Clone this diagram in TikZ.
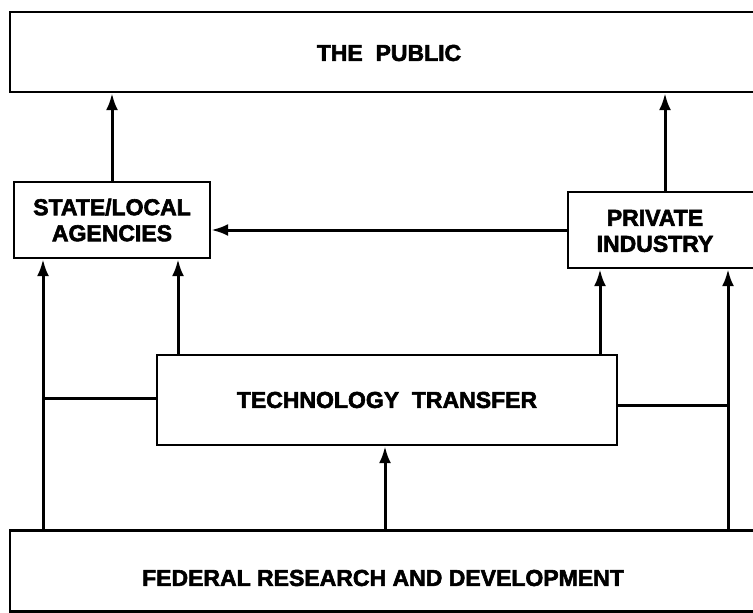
\documentclass[tikz,border=0pt]{standalone}
\usepackage{fontspec}
\setmainfont{Liberation Sans}[BoldFeatures={FakeBold=2.5}]
\usetikzlibrary{arrows.meta,calc}
\begin{document}
\begin{tikzpicture}[x=1pt,y=-1pt,
  box/.style={draw,line width=2.4pt,inner sep=0pt},
  lbl/.style={font=\fontsize{23}{26}\selectfont\bfseries,align=center},
  conn/.style={line width=3pt},
  arr/.style={conn,-{Latex[length=17pt,width=12pt]}}]
\useasboundingbox (0,0) rectangle (753,613);
\clip (0,0) rectangle (753,613);
% boxes
\node[box,minimum width=760pt,minimum height=80pt] (public) at (390,52) {};
\node[lbl] (publict) at (389,53) {THE\ \ PUBLIC};
\node[box,minimum width=196pt,minimum height=76pt,lbl] (state) at (112,220) {STATE/LOCAL\\AGENCIES};
\node[box,minimum width=212pt,minimum height=76pt] (priv) at (674,230) {};
\node[lbl] (privt) at (655,231) {PRIVATE\\INDUSTRY};
\node[box,minimum width=460pt,minimum height=90pt,lbl] (tech) at (387,400) {TECHNOLOGY\ \ TRANSFER};
\node[box,minimum width=760pt,minimum height=81pt] (fed) at (390,571) {};
\node[lbl] (fedt) at (383,578) {FEDERAL RESEARCH AND DEVELOPMENT};
% connection points
\coordinate (pL) at (665,0);
\coordinate (xL) at (43,0);
\coordinate (xS) at (178,0);
\coordinate (xP) at (600,0);
\coordinate (xR) at (728,0);
\coordinate (xM) at (385,0);
\coordinate (jL) at (43,398);
\coordinate (jR) at (728,405);
% arrows up to the public
\draw[arr] (state.north) -- (state.north |- public.south);
\draw[arr] (pL |- priv.north) -- (pL |- public.south);
% private -> state
\draw[arr] (priv.west) -- (priv.west -| state.east);
% from federal R&D
\draw[arr] (xL |- fed.north) -- (xL |- state.south);
\draw[arr] (xR |- fed.north) -- (xR |- priv.south);
\draw[arr] (xM |- fed.north) -- (xM |- tech.south);
% from technology transfer
\draw[arr] (xS |- tech.north) -- (xS |- state.south);
\draw[arr] (xP |- tech.north) -- (xP |- priv.south);
\draw[conn] (jL) -- (jL -| tech.west);
\draw[conn] (jR) -- (jR -| tech.east);
\end{tikzpicture}
\end{document}
